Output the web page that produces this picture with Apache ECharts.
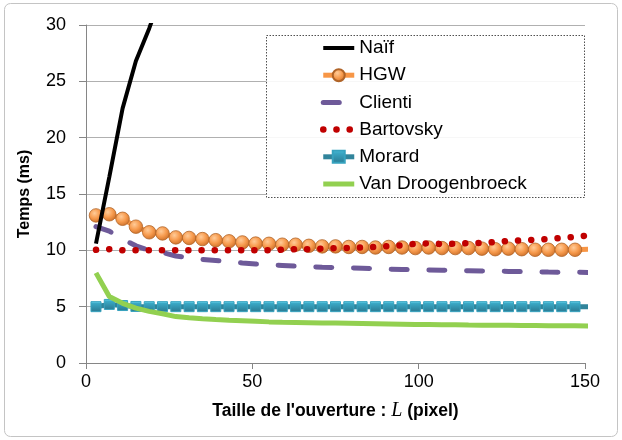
<!DOCTYPE html>
<html>
<head>
<meta charset="utf-8">
<script src="https://cdn.jsdelivr.net/npm/echarts@6/dist/echarts.min.js"></script>
<style>html,body{margin:0;padding:0;background:#fff;}#c{width:622px;height:440px;}</style>
</head>
<body>
<div id="c"></div>
<script>
var xValues = [3,7,11,15,19,23,27,31,35,39,43,47,51,55,59,63,67,71,75,79,83,87,91,95,99,103,107,111,115,119,123,127,131,135,139,143,147,151];
var naifValues = [10.6,16.5,22.6,26.8,29.7,33.0];
var hgwValues = [13.1,13.2,12.8,12.1,11.6,11.5,11.15,11.1,11.0,10.9,10.8,10.7,10.6,10.58,10.5,10.5,10.4,10.35,10.35,10.3,10.3,10.25,10.3,10.25,10.2,10.25,10.2,10.2,10.2,10.15,10.1,10.15,10.1,10.05,10.05,10.05,10.05,10.1];
var clientiValues = [12.1,11.7,11.0,10.4,10.0,9.8,9.5,9.35,9.2,9.1,9.0,8.88,8.78,8.72,8.66,8.6,8.55,8.5,8.47,8.44,8.42,8.38,8.33,8.3,8.27,8.25,8.23,8.21,8.19,8.17,8.15,8.13,8.11,8.09,8.07,8.06,8.05,8.04];
var bartovskyValues = [10.05,10.1,10.0,10.0,10.0,10.0,10.0,10.0,10.0,10.0,10.0,10.0,10.0,10.0,10.05,10.1,10.1,10.15,10.2,10.2,10.25,10.3,10.37,10.45,10.58,10.62,10.56,10.58,10.64,10.65,10.75,10.84,10.88,10.94,11.0,11.1,11.2,11.32];
var morardValues = [5.0,5.2,5.1,5.02,5.0,5.0,5.0,5.0,5.0,5.0,5.0,5.0,5.0,5.0,5.0,5.0,5.0,5.0,5.0,5.0,5.0,5.0,5.0,5.0,5.0,5.0,5.0,5.0,5.0,5.0,5.0,5.0,5.0,5.0,5.0,5.0,5.0,5.0];
var vanValues = [8.0,5.9,5.3,4.87,4.58,4.37,4.12,4.02,3.93,3.86,3.8,3.75,3.7,3.65,3.62,3.6,3.58,3.56,3.54,3.52,3.5,3.48,3.46,3.44,3.42,3.41,3.4,3.39,3.37,3.36,3.35,3.34,3.33,3.32,3.31,3.3,3.3,3.29];
var seriesNames = ['Naïf','HGW','Clienti','Bartovsky','Morard','Van Droogenbroeck'];
var xTicks = [0,50,100,150];
var yTicks = [0,5,10,15,20,25,30];

function pairs(vals){ return vals.map(function(v,i){ return [xValues[i], v]; }); }

var FONT = 'Liberation Sans';
var C_NAIF = '#000000', C_HGW = '#F79646', C_CLI = '#6E5A99', C_BAR = '#C00000', C_MOR = '#31849B', C_VAN = '#92D050';
var DASH_CLI = [16, 21.7], DOT_BAR = [0.1, 13.1];

var legendItems = [
  { name: seriesNames[0], itemStyle: { opacity: 0 }, lineStyle: { width: 4, color: C_NAIF } },
  { name: seriesNames[1], lineStyle: { width: 5, color: C_HGW } },
  { name: seriesNames[2], itemStyle: { opacity: 0 }, lineStyle: { width: 5, color: C_CLI, type: DASH_CLI, cap: 'round' } },
  { name: seriesNames[3], itemStyle: { opacity: 0 }, lineStyle: { width: 6.5, color: C_BAR, type: DOT_BAR, cap: 'round' } },
  { name: seriesNames[4], lineStyle: { width: 5, color: C_MOR } },
  { name: seriesNames[5], itemStyle: { opacity: 0 }, lineStyle: { width: 5, color: C_VAN } }
];

var chart = echarts.init(document.getElementById('c'));
chart.setOption({
  animation: false,
  backgroundColor: '#fff',
  textStyle: { fontFamily: FONT },
  grid: { left: 86, right: 37, top: 25, bottom: 77, containLabel: false },
  graphic: [
    { type: 'rect', z: 0, silent: true, shape: { x: 4.5, y: 3.5, width: 613, height: 433, r: 6 },
      style: { fill: 'none', stroke: '#C4C4C4', lineWidth: 1 } },
    { type: 'rect', z: 1, silent: true, shape: { x: 266.5, y: 35.5, width: 318, height: 162 },
      style: { fill: 'rgba(255,255,255,0.9)', stroke: '#505050', lineWidth: 1, lineDash: [1.5, 1.5] } }
  ],
  legend: {
    orient: 'vertical', left: 320, top: 38, padding: 0,
    itemWidth: 31, itemHeight: 15, itemGap: 7.2,
    textStyle: { fontFamily: FONT, fontSize: 19, color: '#000', lineHeight: 20 },
    data: legendItems
  },
  xAxis: {
    type: 'value', min: 0, max: 150, interval: 50,
    name: '{b|Taille de l\'ouverture : }{i|L}{b| (pixel)}',
    nameLocation: 'middle', nameGap: 38,
    nameTextStyle: { rich: {
      b: { fontFamily: FONT, fontWeight: 'bold', fontSize: 17.5, color: '#000' },
      i: { fontFamily: 'Liberation Serif', fontStyle: 'italic', fontSize: 20, color: '#000' }
    } },
    axisLine: { lineStyle: { color: '#868686', width: 1 } },
    axisTick: { show: true, inside: false, length: 6, lineStyle: { color: '#868686' } },
    axisLabel: { fontSize: 18, color: '#000', margin: 10,
      formatter: function(v){ return xTicks.indexOf(v) >= 0 ? String(v) : ''; } },
    splitLine: { show: false }
  },
  yAxis: {
    type: 'value', min: 0, max: 30, interval: 5,
    name: 'Temps (ms)', nameLocation: 'middle', nameGap: 53,
    nameTextStyle: { fontFamily: FONT, fontWeight: 'bold', fontSize: 16, color: '#000' },
    axisLine: { show: true, lineStyle: { color: '#868686', width: 1 } },
    axisTick: { show: true, inside: false, length: 7, lineStyle: { color: '#868686' } },
    axisLabel: { fontSize: 18, color: '#000', margin: 20,
      formatter: function(v){ return yTicks.indexOf(v) >= 0 ? String(v) : ''; } },
    splitLine: { show: true, lineStyle: { color: '#B0B0B0', width: 1 } }
  },
  series: [
    { name: seriesNames[0], type: 'line', data: pairs(naifValues), symbol: 'none', clip: true, z: 8,
      lineStyle: { color: C_NAIF, width: 4 }, itemStyle: { color: C_NAIF } },
    { name: seriesNames[1], type: 'line', data: pairs(hgwValues), symbol: 'circle', symbolSize: 13.5, clip: true, z: 3,
      lineStyle: { color: C_HGW, width: 5 },
      itemStyle: { color: { type: 'radial', x: 0.4, y: 0.35, r: 0.65, colorStops: [
        { offset: 0, color: '#FFCB98' }, { offset: 0.55, color: '#F79B4E' }, { offset: 1, color: '#D0732C' } ] },
        borderColor: '#B06428', borderWidth: 0.8 } },
    { name: seriesNames[2], type: 'line', data: pairs(clientiValues), symbol: 'none', clip: true, z: 4,
      lineStyle: { color: C_CLI, width: 5, type: DASH_CLI, cap: 'round' }, itemStyle: { color: C_CLI } },
    { name: seriesNames[3], type: 'line', data: pairs(bartovskyValues), symbol: 'none', clip: true, z: 5,
      lineStyle: { color: C_BAR, width: 6.5, type: DOT_BAR, cap: 'round' }, itemStyle: { color: C_BAR } },
    { name: seriesNames[4], type: 'line', data: pairs(morardValues), symbol: 'rect', symbolSize: 10, clip: true, z: 6,
      lineStyle: { color: C_MOR, width: 5 },
      itemStyle: { color: { type: 'linear', x: 0, y: 0, x2: 0, y2: 1, colorStops: [
        { offset: 0, color: '#7FE9FF' }, { offset: 0.2, color: '#3AA9C6' }, { offset: 1, color: '#2A7890' } ] },
        borderColor: '#36A2BE', borderWidth: 1 } },
    { name: seriesNames[5], type: 'line', data: pairs(vanValues), symbol: 'none', clip: true, z: 7,
      lineStyle: { color: C_VAN, width: 5 }, itemStyle: { color: C_VAN } }
  ]
});
</script>
</body>
</html>
